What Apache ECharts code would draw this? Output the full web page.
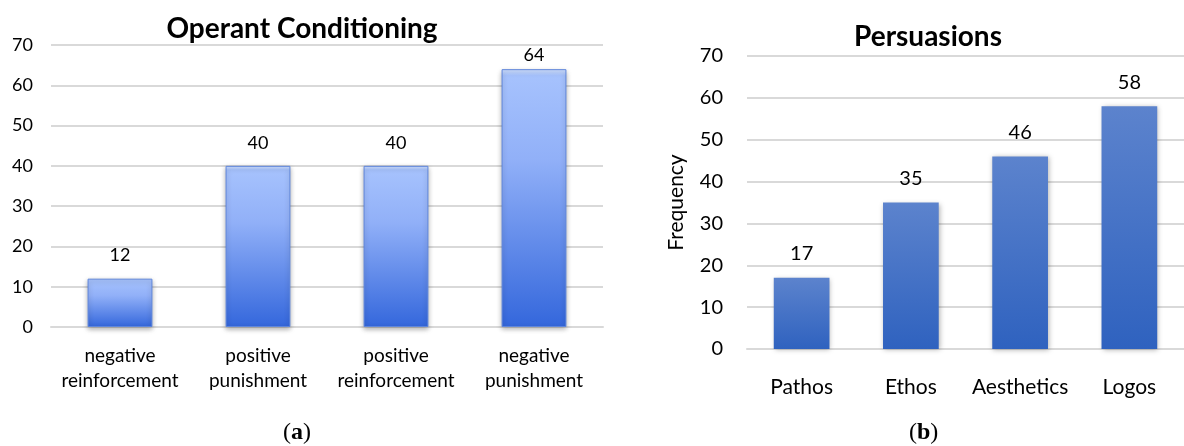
<!DOCTYPE html>
<html>
<head>
<meta charset="utf-8">
<script src="https://cdn.jsdelivr.net/npm/echarts@6/dist/echarts.min.js"></script>
<style>
  html, body { margin: 0; padding: 0; background: #fff; }
  #chart { width: 1184px; height: 446px; }
</style>
</head>
<body>
<div id="chart"></div>
<script>
// Panel (a): operant conditioning counts
const conditioningCategories = ['negative\nreinforcement', 'positive\npunishment', 'positive\nreinforcement', 'negative\npunishment'];
const conditioningValues = [12, 40, 40, 64];

// Panel (b): persuasion frequencies
const persuasionCategories = ['Pathos', 'Ethos', 'Aesthetics', 'Logos'];
const persuasionValues = [17, 35, 46, 58];

const yTicks = { min: 0, max: 70, interval: 10 };

const FONT = 'Lato, "Open Sans", sans-serif';
const SERIF = '"Liberation Serif", serif';
const gridLine = { show: true, lineStyle: { color: '#d9d9d9', width: 2 } };

const chart = echarts.init(document.getElementById('chart'));

// bevelled look for panel (a): bright rim at top, darkening towards the base
const bevelFill = new echarts.graphic.LinearGradient(0, 0, 0, 1, [
  { offset: 0, color: '#d2e2ff' },
  { offset: 0.025, color: '#a6c2fd' },
  { offset: 0.35, color: '#91b0f8' },
  { offset: 1, color: '#3467dc' }
]);
const flatFill = new echarts.graphic.LinearGradient(0, 0, 0, 1, [
  { offset: 0, color: '#5c83cd' },
  { offset: 1, color: '#2f62bf' }
]);

function caption(letter, x) {
  return {
    type: 'text', left: x, top: 421,
    style: {
      text: '{n|(}{b|' + letter + '}{n|)}',
      rich: {
        n: { fontFamily: SERIF, fontSize: 24, fill: '#000' },
        b: { fontFamily: SERIF, fontSize: 24, fontWeight: 'bold', fill: '#000' }
      }
    }
  };
}

// labels of bars close to the top of the plot sit a little nearer their bar
const conditioningData = conditioningValues.map(v =>
  v > 60 ? { value: v, label: { distance: 5 } } : v);

chart.setOption({
  animation: false,
  textStyle: { fontFamily: FONT },
  title: [
    { text: 'Operant Conditioning', left: 297, top: 10, textAlign: 'center',
      textStyle: { fontFamily: FONT, fontSize: 28, fontWeight: 'bold', color: '#000' } },
    { text: 'Persuasions', left: 923, top: 18, textAlign: 'center',
      textStyle: { fontFamily: FONT, fontSize: 28, fontWeight: 'bold', color: '#000' } }
  ],
  graphic: [caption('a', 283), caption('b', 909)],
  grid: [
    { left: 51, top: 45, width: 552, height: 282 },
    { left: 747, top: 56, width: 440, height: 293 }
  ],
  xAxis: [
    { type: 'category', gridIndex: 0, data: conditioningCategories,
      axisLine: { lineStyle: { color: '#d9d9d9', width: 2 } }, axisTick: { show: false },
      axisLabel: { color: '#000', fontSize: 19, margin: 16, lineHeight: 25, interval: 0, fontFamily: FONT } },
    { type: 'category', gridIndex: 1, data: persuasionCategories,
      axisLine: { lineStyle: { color: '#d9d9d9', width: 2 } }, axisTick: { show: false },
      axisLabel: { color: '#000', fontSize: 21, margin: 28, interval: 0, fontFamily: FONT } }
  ],
  yAxis: [
    { type: 'value', gridIndex: 0, ...yTicks, splitLine: gridLine,
      axisLine: { show: false }, axisTick: { show: false },
      axisLabel: { color: '#000', fontSize: 18, margin: 18, fontFamily: FONT } },
    { type: 'value', gridIndex: 1, ...yTicks, splitLine: gridLine,
      axisLine: { show: false }, axisTick: { show: false },
      name: 'Frequency', nameLocation: 'middle', nameGap: 60, nameRotate: 90,
      nameTextStyle: { color: '#000', fontSize: 21, fontFamily: FONT },
      axisLabel: { color: '#000', fontSize: 20, margin: 24, fontFamily: FONT } }
  ],
  series: [
    { type: 'bar', xAxisIndex: 0, yAxisIndex: 0, data: conditioningData, barWidth: '47%',
      itemStyle: { color: bevelFill, borderColor: '#5f86dc', borderWidth: 1,
        shadowColor: 'rgba(0,0,0,0.3)', shadowBlur: 5, shadowOffsetY: 2 },
      label: { show: true, position: 'top', distance: 14, color: '#000', fontSize: 18, fontFamily: FONT } },
    { type: 'bar', xAxisIndex: 1, yAxisIndex: 1, data: persuasionValues, barWidth: '51%',
      itemStyle: { color: flatFill,
        shadowColor: 'rgba(0,0,0,0.3)', shadowBlur: 5, shadowOffsetX: 1, shadowOffsetY: 1 },
      label: { show: true, position: 'top', distance: 14, color: '#000', fontSize: 20, fontFamily: FONT } }
  ]
});
</script>
</body>
</html>
